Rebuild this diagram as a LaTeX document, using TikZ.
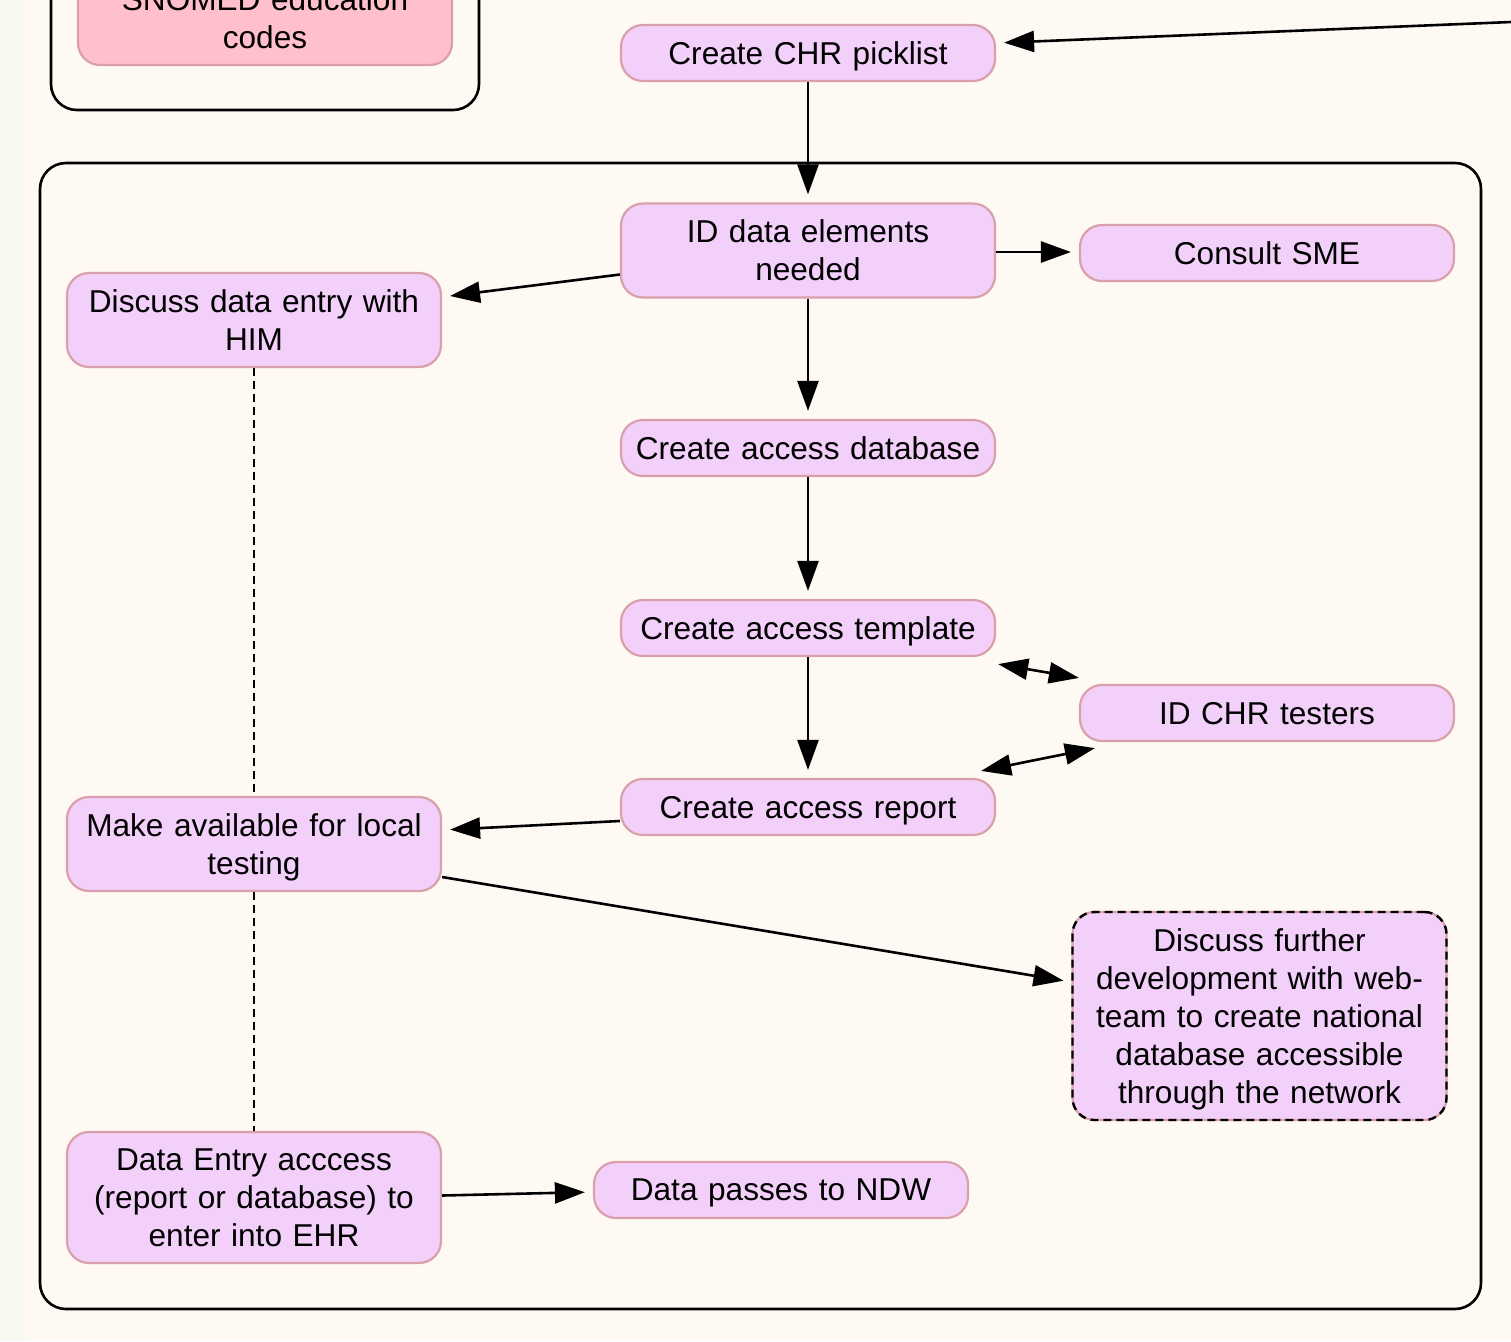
\documentclass[tikz,border=0pt]{standalone}
\usepackage{fontspec}
\setmainfont{Liberation Sans}
\usetikzlibrary{arrows.meta,calc}
\definecolor{bg}{HTML}{FEFAF3}
\definecolor{strip}{HTML}{F7F9EF}
\definecolor{boxfill}{HTML}{F3D0FA}
\definecolor{boxdraw}{HTML}{D9A0AC}
\definecolor{snofill}{HTML}{FFC0CB}
\newcommand\boxdepthfix{\endgraf\kern-\prevdepth}
\begin{document}
\begin{tikzpicture}[x=0.5pt,y=-0.5pt,
  box/.style={draw=boxdraw, fill=boxfill, line width=1.1pt, rounded corners=11pt,
    minimum width=187pt, minimum height=28pt, align=center, inner sep=0pt,
    text width=182pt, font=\fontsize{15.8}{19}\selectfont,
    execute at end node=\boxdepthfix},
  dashbox/.style={box, postaction={draw=black, line width=1.2pt, dash pattern=on 4pt off 2.5pt}},
  group/.style={draw=black, line width=1.3pt, rounded corners=13pt},
  arr/.style={line width=1.3pt, -{Triangle[length=15pt,width=10.5pt]}, shorten >=4pt},
  darr/.style={line width=1.3pt, {Triangle[length=15pt,width=10.5pt]}-{Triangle[length=15pt,width=10.5pt]}},
  link/.style={line width=1.2pt, dash pattern=on 4pt off 2.5pt}]
\useasboundingbox (0,0) rectangle (1511,1341);
\clip (0,0) rectangle (1511,1341);
\fill[bg] (0,0) rectangle (1511,1341);
\fill[strip] (0,0) rectangle (25,1341);
% groups
\draw[group] (51,-100) rectangle (479,110);
\draw[group] (40,163) rectangle (1481,1309);
% nodes
\node[box, fill=snofill, minimum height=47pt] (sno) at (265,18) {SNOMED education\\codes};
\node[box] (pick) at (808,53) {Create CHR picklist};
\node[box, minimum height=47pt] (idd) at (808,250.5) {ID data elements\\needed};
\node[box] (sme) at (1267,253) {Consult SME};
\node[box, minimum height=47pt] (him) at (254,320) {Discuss data entry with\\HIM};
\node[box] (db) at (808,448) {Create access database};
\node[box] (tmpl) at (808,628) {Create access template};
\node[box] (test) at (1267,713) {ID CHR testers};
\node[box] (rep) at (808,807) {Create access report};
\node[box, minimum height=47pt] (mav) at (254,844) {Make available for local\\testing};
\node[dashbox, minimum height=104pt] (disc) at (1259.5,1016) {Discuss further\\development with web-\\team to create national\\database accessible\\through the network};
\node[box, minimum height=65.5pt] (de) at (254,1197.5) {Data Entry acccess\\(report or database) to\\enter into EHR};
\node[box] (ndw) at (781,1190) {Data passes to NDW};
% connectors
\coordinate (ext) at (1511,22);
\draw[arr] (ext) -- ($(pick.east)+(0,-10)$);
\draw[arr] (pick) -- (idd);
\draw[arr] ($(idd.east)+(0,1.5)$) -- ($(sme.west)+(0,-1)$);
\draw[arr] ($(idd.west)+(0,24)$) -- ($(him.east)+(0,-23)$);
\draw[arr] (idd) -- (db);
\draw[arr] (db) -- (tmpl);
\draw[arr] (tmpl) -- (rep);
\draw[darr] ($(tmpl.south east)+(2,7)$) -- ($(test.north west)+(0,-6)$);
\draw[darr] ($(rep.north east)+(-15,-7)$) -- ($(test.south west)+(16,6)$);
\draw[arr] ($(rep.west)+(0,14)$) -- ($(mav.east)+(0,-14)$);
\draw[arr] ($(mav.east)+(0,33)$) -- ($(disc.west)+(0,-34)$);
\draw[arr] ($(de.east)+(0,-2)$) -- ($(ndw.west)+(0,2)$);
\draw[link] (him) -- (mav);
\draw[link] (mav) -- (de);
\end{tikzpicture}
\end{document}
